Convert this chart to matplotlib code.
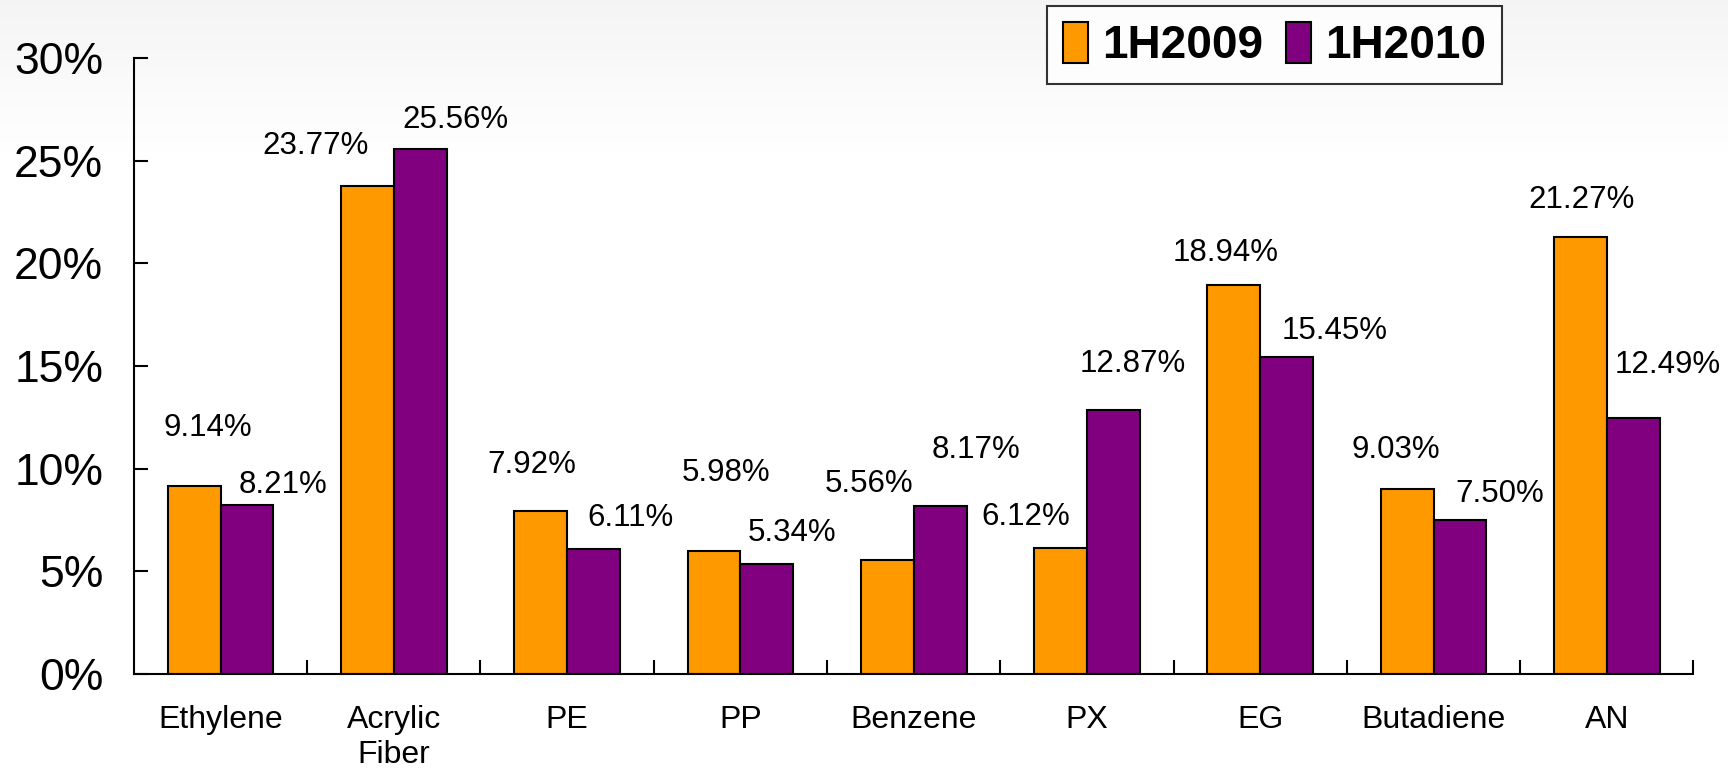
import matplotlib
matplotlib.use("Agg")
import matplotlib.pyplot as plt
import numpy as np
from matplotlib.ticker import PercentFormatter

plt.rcParams['font.family'] = ['Liberation Sans', 'DejaVu Sans']

# data
categories = ['Ethylene', 'Acrylic\nFiber', 'PE', 'PP', 'Benzene', 'PX', 'EG', 'Butadiene', 'AN']
h2009 = [9.14, 23.77, 7.92, 5.98, 5.56, 6.12, 18.94, 9.03, 21.27]
h2010 = [8.21, 25.56, 6.11, 5.34, 8.17, 12.87, 15.45, 7.50, 12.49]
series_names = ['1H2009', '1H2010']

# label offsets in pixels from the top centre of each bar (as in the slide)
off_2009 = [(14, 58), (-52, 40), (-9, 46), (12, 78), (-18, 76), (-35, 31), (-8, 32), (-11, 39), (1, 37)]
off_2010 = [(36, 20), (35, 29), (37, 31), (25, 31), (36, 56), (19, 46), (48, 26), (40, 26), (34, 53)]

orange = '#FF9900'
purple = '#800080'

fig = plt.figure(figsize=(17.28, 7.78), dpi=100)

# faint grey slide background at the top
bg = fig.add_axes([0, 0, 1, 1], zorder=-10)
grad = np.concatenate([np.linspace(0.96, 1.0, 40), np.ones(160)]).reshape(-1, 1)
bg.imshow(np.dstack([grad, grad, grad]), aspect='auto', extent=[0, 1, 0, 1], origin='upper')
bg.set_axis_off()

ax = fig.add_axes([0.0775, 0.1337, 0.9025, 0.7917])
ax.patch.set_alpha(0)

x = np.arange(len(categories))
w = 0.305
b1 = ax.bar(x - w / 2, h2009, w, color=orange, edgecolor='black', linewidth=1.5, label=series_names[0])
b2 = ax.bar(x + w / 2, h2010, w, color=purple, edgecolor='black', linewidth=1.5, label=series_names[1])

for bars, vals, offs in [(b1, h2009, off_2009), (b2, h2010, off_2010)]:
    for r, v, o in zip(bars, vals, offs):
        ax.annotate('%.2f%%' % v, (r.get_x() + r.get_width() / 2, r.get_height()),
                    xytext=o, textcoords='offset pixels', ha='center', va='center',
                    fontsize=22.5)

ax.set_xlim(-0.5, len(categories) - 0.5)
ax.set_ylim(0, 30)
ax.set_yticks(np.arange(0, 31, 5))
ax.yaxis.set_major_formatter(PercentFormatter(decimals=0))
ax.set_xticks(x)
ax.set_xticklabels(categories, linespacing=1.25)
ax.set_xticks(np.arange(0.5, len(categories), 1), minor=True)

for s in ['top', 'right']:
    ax.spines[s].set_visible(False)
for s in ['left', 'bottom']:
    ax.spines[s].set_linewidth(1.5)

ax.tick_params(axis='y', direction='in', length=10, width=1.5, labelsize=32, pad=22)
ax.tick_params(axis='x', which='major', length=0, labelsize=23, pad=22)
ax.tick_params(axis='x', which='minor', direction='in', length=10, width=1.5)

leg = fig.legend(loc='upper left', bbox_to_anchor=(1047 / 1728, 1 - 6 / 778),
                 ncol=2, frameon=True, fancybox=False, edgecolor='black',
                 prop={'weight': 'bold', 'size': 33}, handlelength=0.55, handleheight=1.0,
                 handletextpad=0.3, columnspacing=0.5, borderpad=0.35, borderaxespad=0)
leg.get_frame().set_linewidth(1.5)

fig.savefig('out.png', dpi=100)
